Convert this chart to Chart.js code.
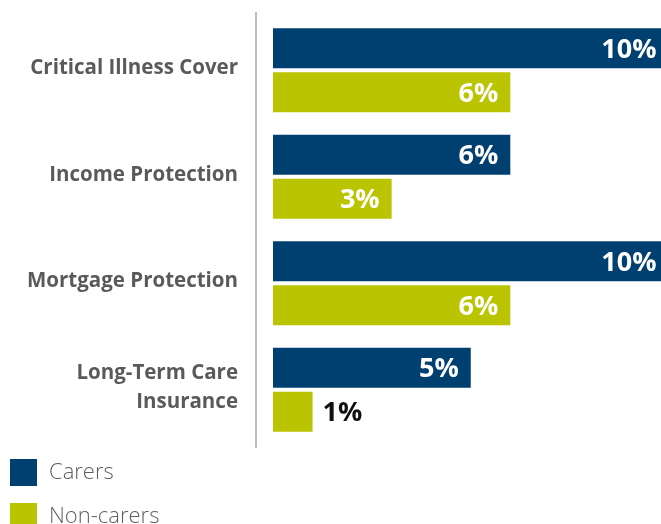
<!DOCTYPE html>
<html>
<head>
<meta charset="utf-8">
<script src="https://cdn.jsdelivr.net/npm/chart.js@4"></script>
<style>
  html, body { margin: 0; padding: 0; background: #fff; }
  #wrap { width: 661px; height: 524px; }
</style>
</head>
<body>
<div id="wrap"><canvas id="Graph"></canvas></div>
<script>
const categories = [
    'Critical Illness Cover',
    'Income Protection',
    'Mortgage Protection',
    ['Long-Term Care', 'Insurance']
];
const carers = [10, 6, 10, 5];
const nonCarers = [6, 3, 6, 1];

const NAVY = '#004071';
const LIME = '#bac400';

// vertical rule to the left of the bars
const axisRule = {
    id: 'axisRule',
    beforeDatasetsDraw(chart) {
        const { ctx, chartArea } = chart;
        ctx.save();
        ctx.strokeStyle = '#a6a6a6';
        ctx.lineWidth = 1.5;
        ctx.beginPath();
        ctx.moveTo(chartArea.left - 17, chartArea.top - 5);
        ctx.lineTo(chartArea.left - 17, chartArea.bottom + 5);
        ctx.stroke();
        ctx.restore();
    }
};

// percentage labels at the end of every bar
const barValues = {
    id: 'barValues',
    afterDatasetsDraw(chart) {
        const ctx = chart.ctx;
        ctx.save();
        ctx.font = 'bold 27px "Open Sans"';
        ctx.textBaseline = 'middle';
        chart.data.datasets.forEach((ds, i) => {
            chart.getDatasetMeta(i).data.forEach((bar, j) => {
                const text = ds.data[j] + '%';
                const w = ctx.measureText(text).width;
                const len = bar.x - bar.base;
                if (len > w + 20) {
                    ctx.fillStyle = '#fff';
                    ctx.textAlign = 'right';
                    ctx.fillText(text, bar.x - 12, bar.y + 2);
                } else {
                    ctx.fillStyle = '#111';
                    ctx.textAlign = 'left';
                    ctx.fillText(text, bar.x + 10, bar.y + 2);
                }
            });
        });
        ctx.restore();
    }
};

// stacked legend in the bottom left corner
const stackedLegend = {
    id: 'stackedLegend',
    afterDraw(chart) {
        const ctx = chart.ctx;
        ctx.save();
        ctx.font = '300 22px "Open Sans"';
        ctx.textBaseline = 'middle';
        ctx.textAlign = 'left';
        chart.data.datasets.forEach((ds, i) => {
            const y = 459 + i * 44;
            ctx.fillStyle = ds.backgroundColor;
            ctx.fillRect(10, y, 27, 27);
            ctx.fillStyle = '#5f5f5f';
            ctx.fillText(ds.label, 49, y + 14);
        });
        ctx.restore();
    }
};

new Chart(document.getElementById('Graph'), {
    type: 'bar',
    data: {
        labels: categories,
        datasets: [
            {
                label: 'Carers',
                backgroundColor: NAVY,
                data: carers
            },
            {
                label: 'Non-carers',
                backgroundColor: LIME,
                data: nonCarers
            }
        ]
    },
    options: {
        indexAxis: 'y',
        responsive: true,
        maintainAspectRatio: false,
        animation: false,
        categoryPercentage: 0.825,
        barPercentage: 0.909,
        layout: { padding: { top: 17, bottom: 81, left: 0, right: 0 } },
        plugins: {
            legend: { display: false },
            tooltip: { enabled: false }
        },
        scales: {
            x: {
                display: false,
                min: 0,
                max: 9.81
            },
            y: {
                afterFit(scale) {
                    scale.width = 273;
                    scale.paddingTop = 0;
                    scale.paddingBottom = 0;
                },
                grid: { display: false, drawTicks: false },
                border: { display: false },
                ticks: {
                    padding: 35,
                    labelOffset: -2,
                    color: '#5a5a5a',
                    font: { family: 'Open Sans', weight: 'bold', size: 20.5, lineHeight: 1.41 }
                }
            }
        }
    },
    plugins: [axisRule, barValues, stackedLegend]
});
</script>
</body>
</html>
